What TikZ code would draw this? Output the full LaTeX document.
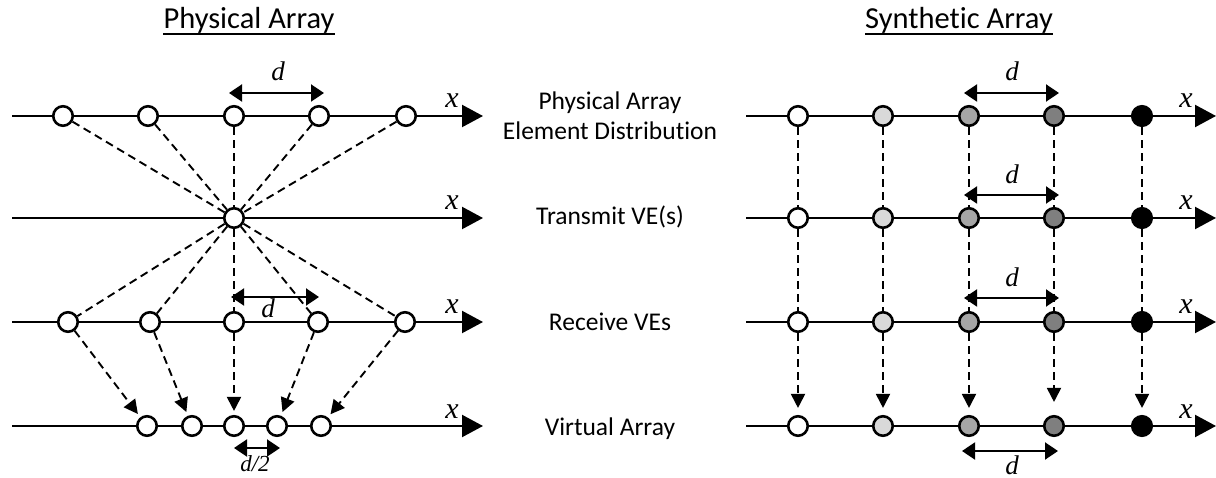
\documentclass[tikz,border=0pt]{standalone}
\usepackage{fontspec}
\setmainfont{Carlito}[Ligatures=CommonOff]
\newfontfamily\varfont{Liberation Serif}
\usetikzlibrary{arrows.meta}
\definecolor{shadeA}{HTML}{FFFFFF}
\definecolor{shadeB}{HTML}{D9D9D9}
\definecolor{shadeC}{HTML}{A6A6A6}
\definecolor{shadeD}{HTML}{7F7F7F}
\definecolor{shadeE}{HTML}{000000}
\begin{document}
\begin{tikzpicture}[x=1pt,y=-1pt,
  elem/.style={circle,draw,line width=2.6pt,minimum size=19.5pt,inner sep=0pt,fill=white},
  axis/.style={line width=2.2pt,-{Triangle[length=21pt,width=22pt]}},
  span/.style={line width=2pt,{Triangle[length=13pt,width=17pt]}-{Triangle[length=13pt,width=17pt]}},
  link/.style={line width=1.9pt,dash pattern=on 8pt off 5pt},
  flow/.style={link,-{Triangle[length=14pt,width=14pt]},shorten >=4pt},
  var/.style={inner sep=0pt,anchor=base,font=\varfont\itshape\fontsize{27}{29}\selectfont},
  lab/.style={inner sep=0pt,anchor=base,font=\fontsize{25.5}{30}\selectfont},
  ttl/.style={inner sep=0pt,anchor=base,font=\fontsize{30.5}{34}\selectfont}
]
\useasboundingbox (0,0) rectangle (1216,478);

% ---------- titles ----------
\node[ttl] (tL) at (249,29) {Physical Array};
\node[ttl] (tR) at (959,29) {Synthetic Array};
\draw[line width=1.4pt] ([yshift=-5pt]tL.base west) -- ([yshift=-5pt]tL.base east);
\draw[line width=1.4pt] ([yshift=-5pt]tR.base west) -- ([yshift=-5pt]tR.base east);

% ---------- row labels ----------
\node[lab] (m1a) at (610,110) {Physical Array};
\node[lab] (m1b) at (610,140) {Element Distribution};
\node[lab] (m2) at (610,225) {Transmit VE(s)};
\node[lab] (m3) at (610,331) {Receive VEs};
\node[lab] (m4) at (610,435) {Virtual Array};

% ---------- axes ----------
\foreach \r/\y in {1/116,2/218,3/322,4/426}{
  \coordinate (la\r) at (12,\y);  \coordinate (lb\r) at (483,\y);
  \coordinate (ra\r) at (746,\y); \coordinate (rb\r) at (1216,\y);
  \draw[axis] (la\r) -- (lb\r);
  \draw[axis] (ra\r) -- (rb\r);
  \node[var,font=\varfont\itshape\fontsize{30}{32}\selectfont] (xl\r) at (452,\y-8) {x};
  \node[var,font=\varfont\itshape\fontsize{30}{32}\selectfont] (xr\r) at (1186,\y-8) {x};
}

% ---------- physical array: elements ----------
\foreach \i/\x in {1/63,2/148,3/234,4/319,5/406}
  \node[elem] (P\i) at (\x,116) {};
\node[elem] (T) at (234,218) {};
\foreach \i/\x in {1/68,2/150,3/234,4/318,5/405}
  \node[elem] (R\i) at (\x,322) {};
\foreach \i/\x in {1/147,2/192,3/234,4/277,5/321}
  \node[elem] (V\i) at (\x,426) {};

% physical array: paths through the transmit element
\foreach \i in {1,...,5}{
  \draw[link] (P\i) -- (T);
  \draw[link] (T) -- (R\i);
  \draw[flow] (R\i) -- (V\i);
}

% physical array: spacing marks
\coordinate (d1a) at (229,93);  \coordinate (d1b) at (324,93);
\draw[span] (d1a) -- (d1b);
\node[var] (d1) at (278,81) {d};
\coordinate (d3a) at (231,297); \coordinate (d3b) at (319,297);
\draw[span] (d3a) -- (d3b);
\node[var] (d3) at (268,318) {d};
\coordinate (d4a) at (234,448); \coordinate (d4b) at (280,448);
\draw[span] (d4a) -- (d4b);
\node[var,font=\varfont\itshape\fontsize{23}{25}\selectfont] (d4) at (255,471) {d/2};

% ---------- synthetic array: elements ----------
\foreach \r/\y in {1/116,2/218,3/322,4/426}{
  \foreach \c/\x/\f in {1/798/shadeA,2/883/shadeB,3/969/shadeC,4/1054/shadeD,5/1142/shadeE}
    \node[elem,fill=\f] (S\r\c) at (\x,\y) {};
}
\foreach \c in {1,...,5}{
  \draw[link] (S1\c) -- (S2\c);
  \draw[link] (S2\c) -- (S3\c);
}
\foreach \c/\s in {1/7,2/7,3/7,4/13,5/7}
  \draw[flow,shorten >=\s pt] (S3\c) -- (S4\c);

% synthetic array: spacing marks
\foreach \r/\ya/\yt in {1/93/81,2/195/184,3/298/287}{
  \coordinate (e\r a) at (964,\ya); \coordinate (e\r b) at (1059,\ya);
  \draw[span] (e\r a) -- (e\r b);
  \node[var] (e\r) at (1012,\yt) {d};
}
\coordinate (e4a) at (962,451); \coordinate (e4b) at (1058,451);
\draw[span] (e4a) -- (e4b);
\node[var] (e4) at (1012,474) {d};
\end{tikzpicture}
\end{document}
